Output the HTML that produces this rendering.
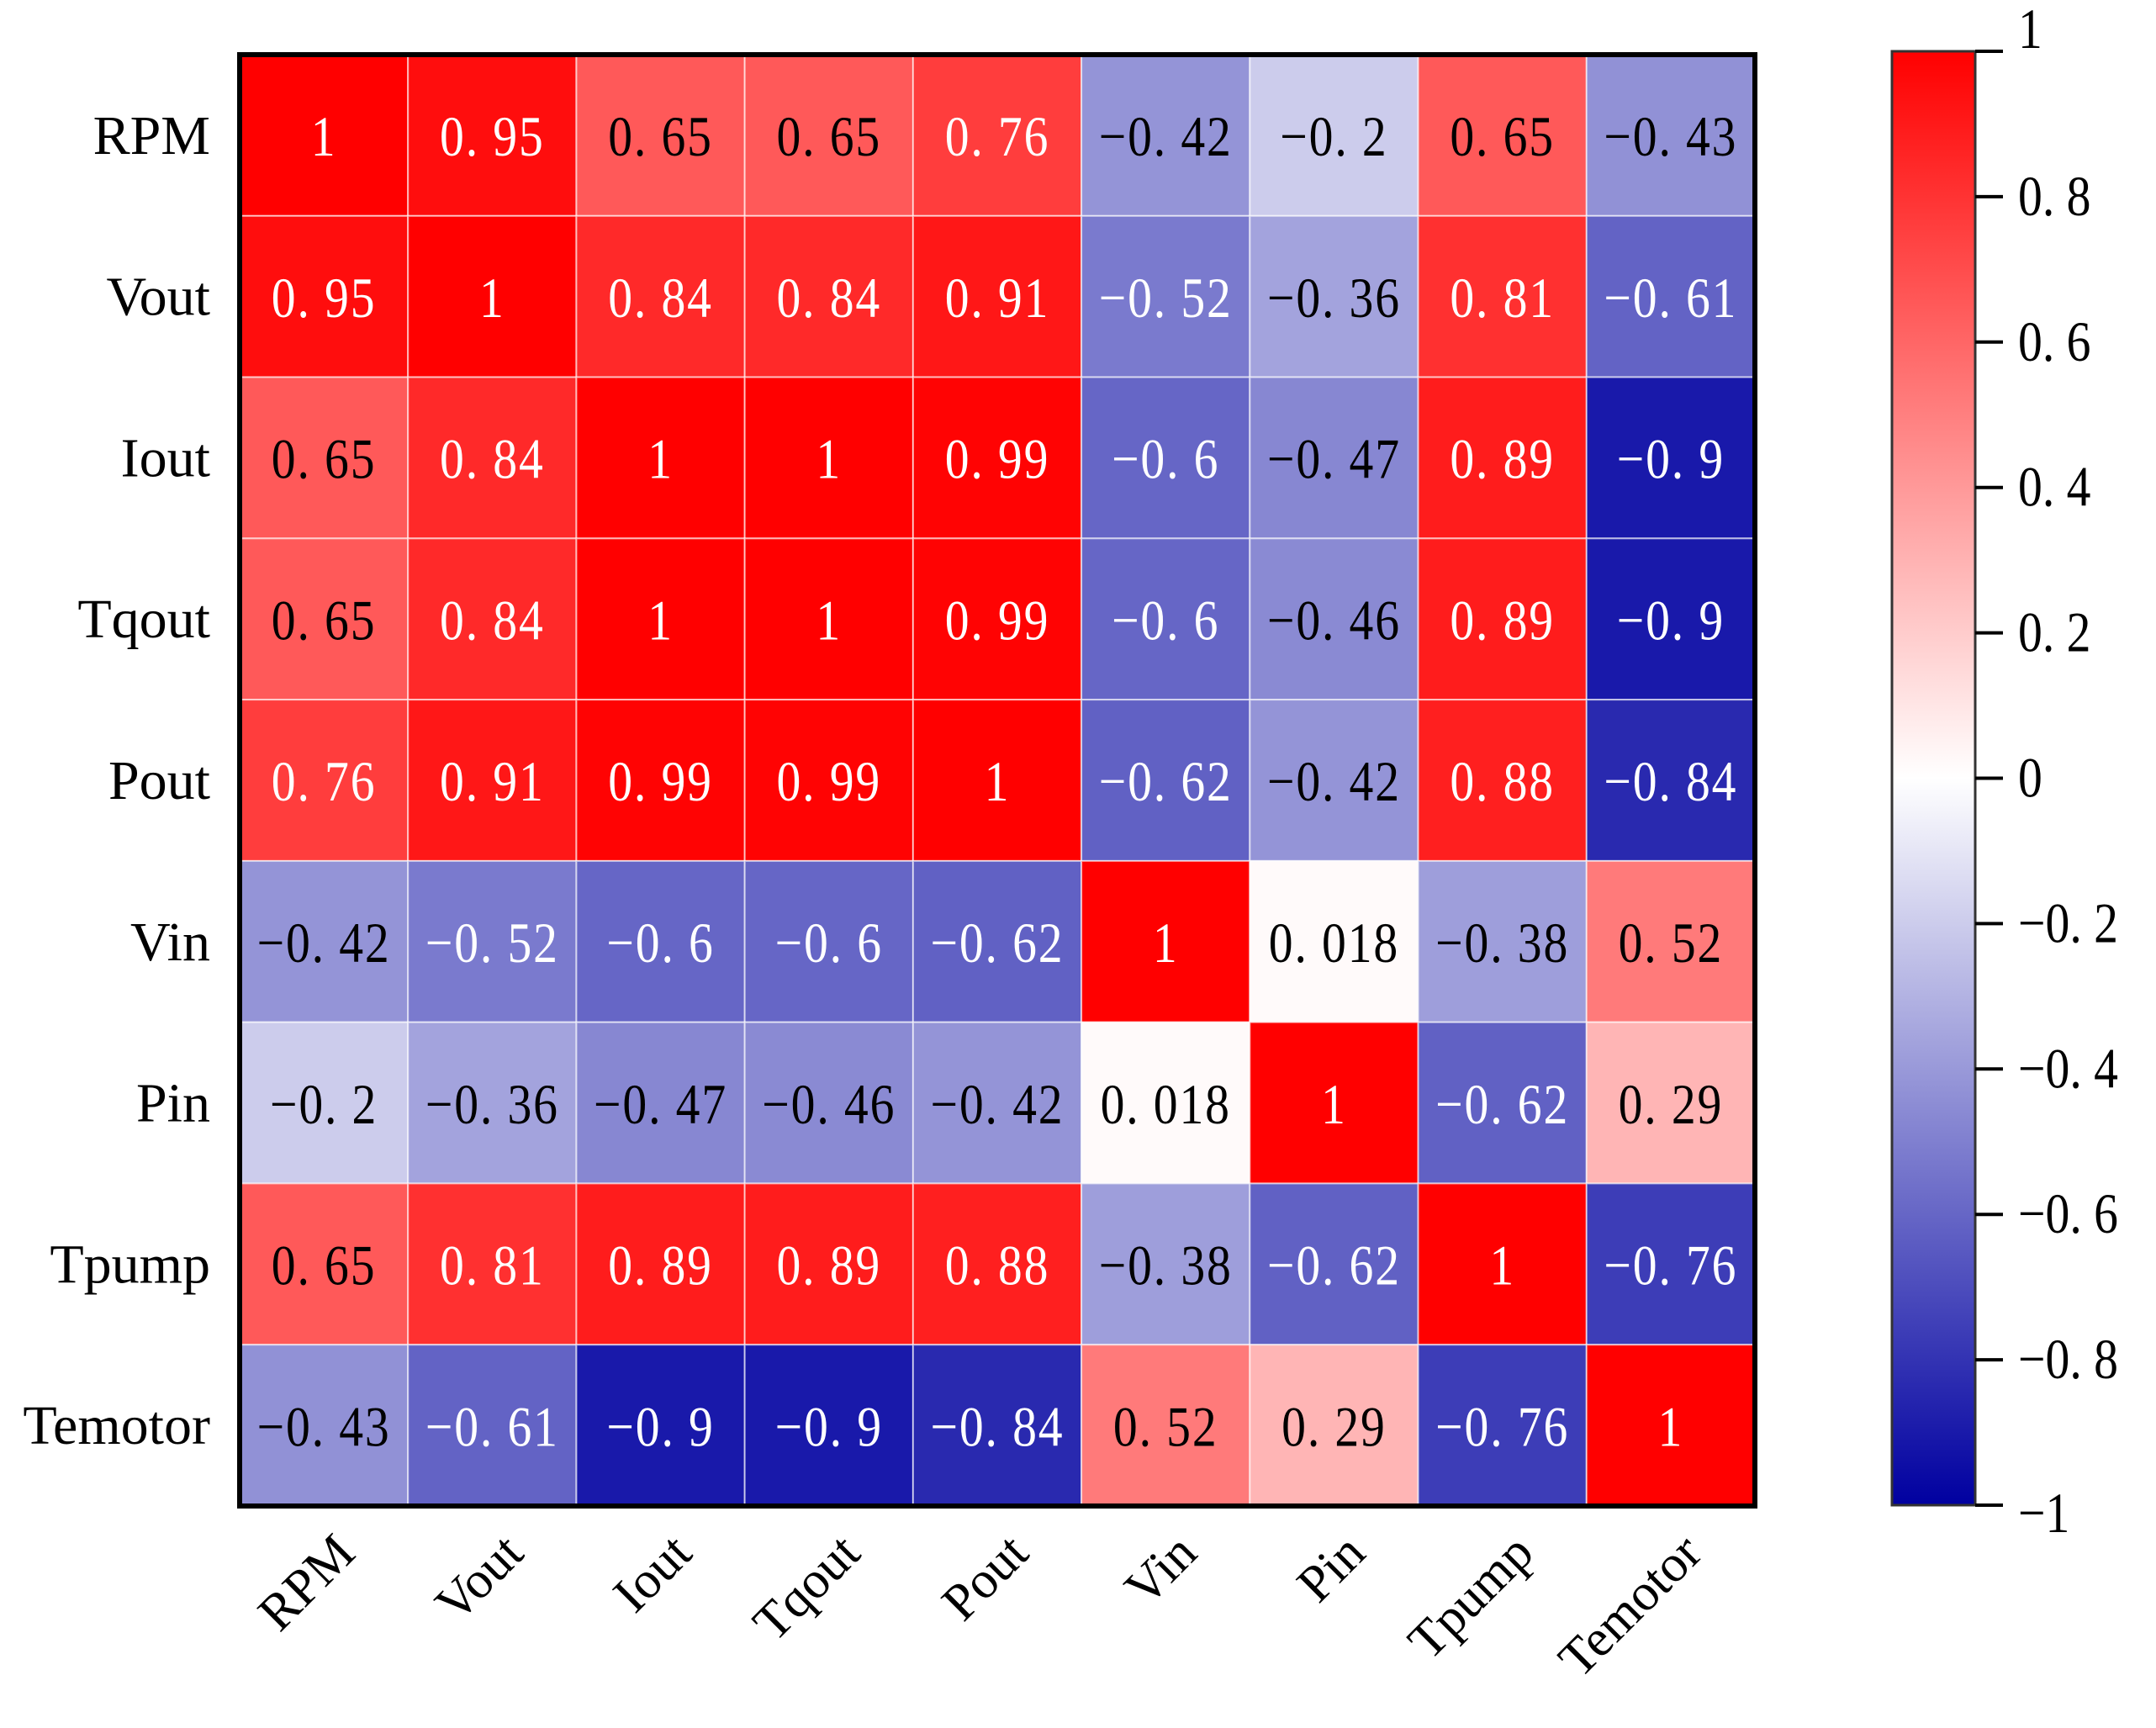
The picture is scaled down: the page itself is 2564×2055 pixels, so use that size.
<!DOCTYPE html>
<html><head><meta charset="utf-8"><style>
html,body{margin:0;padding:0;background:#fff;}
svg{display:block;font-family:"Liberation Serif","Noto Serif CJK SC",serif;}
</style></head><body>
<svg id="chart" width="2564" height="2055" viewBox="0 0 2564 2055" xmlns="http://www.w3.org/2000/svg">
<defs>
<linearGradient id="cbgrad" x1="0" y1="0" x2="0" y2="1">
<stop offset="0" stop-color="#ff0000"/>
<stop offset="0.5" stop-color="#ffffff"/>
<stop offset="1" stop-color="#0000a0"/>
</linearGradient>
</defs>
<g id="cells"></g>
<g id="ylabels"></g>
<g id="xlabels"></g>
<rect x="285" y="65" width="1802" height="1726" fill="none" stroke="#000" stroke-width="6"/>
<rect x="2250" y="61" width="99" height="1729" fill="url(#cbgrad)" stroke="#333" stroke-width="3"/>
<g id="cbticks"></g>
</svg>
<script>
const labels = ["RPM","Vout","Iout","Tqout","Pout","Vin","Pin","Tpump","Temotor"];
const row0 = [1,0.95,0.65,0.65,0.76,-0.42,-0.2,0.65,-0.43];
const row1 = [0.95,1,0.84,0.84,0.91,-0.52,-0.36,0.81,-0.61];
const row2 = [0.65,0.84,1,1,0.99,-0.6,-0.47,0.89,-0.9];
const row3 = [0.65,0.84,1,1,0.99,-0.6,-0.46,0.89,-0.9];
const row4 = [0.76,0.91,0.99,0.99,1,-0.62,-0.42,0.88,-0.84];
const row5 = [-0.42,-0.52,-0.6,-0.6,-0.62,1,0.018,-0.38,0.52];
const row6 = [-0.2,-0.36,-0.47,-0.46,-0.42,0.018,1,-0.62,0.29];
const row7 = [0.65,0.81,0.89,0.89,0.88,-0.38,-0.62,1,-0.76];
const row8 = [-0.43,-0.61,-0.9,-0.9,-0.84,0.52,0.29,-0.76,1];
const matrix = [row0,row1,row2,row3,row4,row5,row6,row7,row8];
const cbTicks = [1,0.8,0.6,0.4,0.2,0,-0.2,-0.4,-0.6,-0.8,-1];

const NS="http://www.w3.org/2000/svg";
const X0=285,Y0=65,W=1802,H=1726,n=labels.length,cw=W/n,ch=H/n;
const xPos=i=>X0+i*cw, yPos=j=>Y0+j*ch;
const CB_T=61,CB_B=1790;
const cbY=v=>CB_T+(1-v)/2*(CB_B-CB_T);
function color(v){
  if(v>=0){const g=Math.round(255*(1-v));return `rgb(255,${g},${g})`;}
  const a=-v;const r=Math.round(255*(1-a));const b=Math.round(255-95*a);return `rgb(${r},${r},${b})`;
}
function fmt(v){return (v<0?"\u2212":"")+String(Math.abs(v)).replace(".",". ");}
function mk(tag,attrs,parent){const e=document.createElementNS(NS,tag);for(const k in attrs)e.setAttribute(k,attrs[k]);parent.appendChild(e);return e;}
function narrow(x,y,sx){return `translate(${x} ${y}) scale(${sx} 1.1) translate(${-x} ${-y})`;}
const cells=document.getElementById('cells');
matrix.forEach((row,j)=>row.forEach((v,i)=>{
  const r=mk('rect',{x:xPos(i),y:yPos(j),width:cw,height:ch,fill:color(v),stroke:'rgba(255,255,255,0.6)','stroke-width':2},cells);
  
  
  const white=(v>=0.7)||(v<=-0.5);
  const tx=xPos(i)+cw/2, ty=yPos(j)+ch/2+22;
  const t=mk('text',{x:tx,y:ty,'text-anchor':'middle','font-size':62,'letter-spacing':2,fill:white?'#fff':'#000',transform:narrow(tx,ty-22,0.93)},cells);
  
  
  t.textContent=fmt(v);
}));
const yl=document.getElementById('ylabels');
labels.forEach((l,j)=>{
  const ty=yPos(j)+ch/2+22;
  const t=mk('text',{x:250,y:ty,'text-anchor':'end','font-size':66},yl);
  
  
  t.textContent=l;
});
const xl=document.getElementById('xlabels');
labels.forEach((l,i)=>{
  const x=xPos(i)+cw/2+40,y=1850;
  const t=mk('text',{x:x,y:y,'text-anchor':'end','font-size':62,transform:`rotate(-45 ${x} ${y})`},xl);
  
  
  t.textContent=l;
});
const cb=document.getElementById('cbticks');
cbTicks.forEach(v=>{
  const y=cbY(v);
  const ln=mk('line',{x1:2349,x2:2382,y1:y,y2:y,stroke:'#000','stroke-width':4},cb);
  
  
  const ty=y+(v===1?-6:v===-1?30:20);
  const t=mk('text',{x:2400,y:ty,'font-size':62,transform:narrow(2400,ty-20,0.93)},cb);
  
  
  t.textContent=fmt(v);
});
</script>
</body></html>
